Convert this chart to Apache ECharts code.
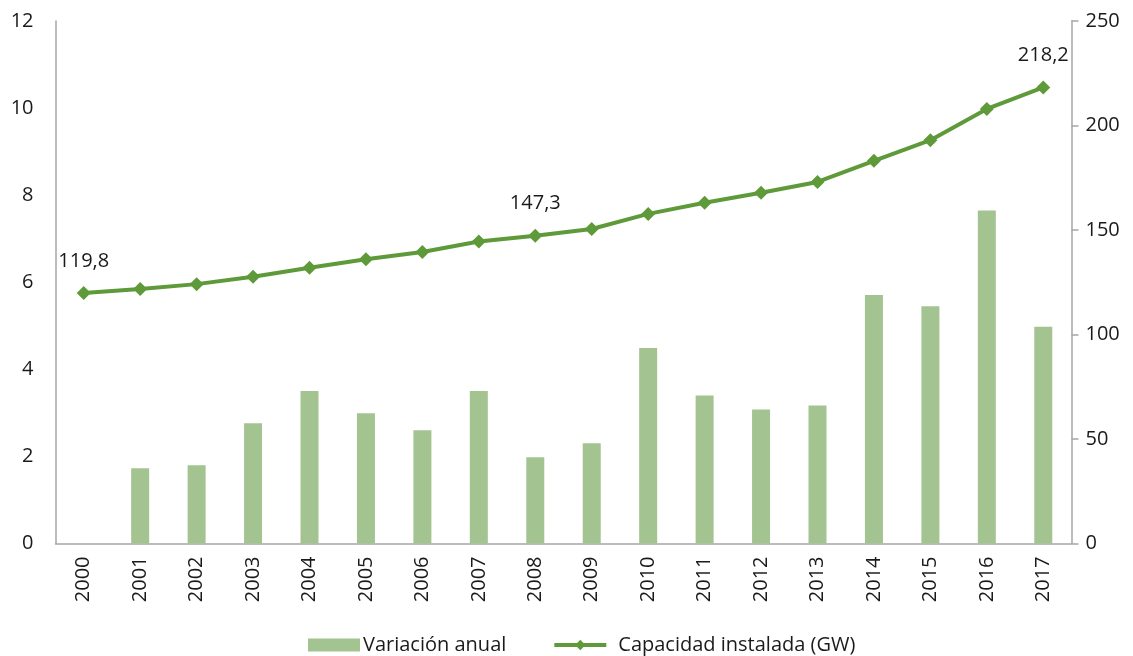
<!DOCTYPE html>
<html><head><meta charset="utf-8">
<script src="https://cdn.jsdelivr.net/npm/echarts@6/dist/echarts.min.js"></script>
<style>html,body{margin:0;padding:0;background:#fff}#c{width:1133px;height:656px}</style>
</head><body><div id="c"></div>
<script>
const years = ['2000','2001','2002','2003','2004','2005','2006','2007','2008','2009','2010','2011','2012','2013','2014','2015','2016','2017'];
const variacionAnual = [null,1.73,1.8,2.76,3.5,2.99,2.6,3.5,1.98,2.3,4.49,3.4,3.08,3.17,5.71,5.45,7.65,4.98];
const capacidad = [119.8,121.8,124.1,127.6,131.9,136.0,139.5,144.5,147.3,150.5,157.7,163.0,167.8,173.0,183.1,193.0,207.9,218.2];
const labeledYears = ['2000','2008','2017'];
const leftTicks = {min:0,max:12,interval:2};
const rightTicks = {min:0,max:250,interval:50};

const FONT = 'Open Sans';
const FS = 20;
const lineColor = '#5e9a3a';
const barColor = '#a3c491';
const axisGray = '#a6a6a6';

const lineData = capacidad.map((v,i)=>({
  value:v,
  label:{show: labeledYears.includes(years[i])}
}));

const chart = echarts.init(document.getElementById('c'));
chart.setOption({
  animation:false,
  textStyle:{fontFamily:FONT},
  grid:{left:55.5,right:61.5,top:21,bottom:112.5,containLabel:false},
  legend:{
    top:630,left:303,itemGap:46,
    itemWidth:52,itemHeight:13,
    textStyle:{fontFamily:FONT,fontSize:FS,color:'#1a1a1a'},
    data:[
      {name:'Variación anual',icon:'rect',textStyle:{padding:[0,0,0,-2]}},
      {name:'Capacidad instalada (GW)',lineStyle:{width:4},textStyle:{padding:[0,0,0,7]}}
    ]
  },
  xAxis:{
    type:'category',data:years,boundaryGap:true,
    axisLine:{lineStyle:{color:axisGray,width:1.5}},
    axisTick:{show:false},
    axisLabel:{rotate:90,fontSize:FS,color:'#1a1a1a',margin:13,fontFamily:FONT}
  },
  yAxis:[
    {type:'value',min:leftTicks.min,max:leftTicks.max,interval:leftTicks.interval,
     splitLine:{show:false},
     axisLine:{show:true,lineStyle:{color:axisGray,width:1.5}},
     axisTick:{show:false},
     axisLabel:{fontSize:FS,color:'#1a1a1a',margin:22,fontFamily:FONT}},
    {type:'value',position:'right',min:rightTicks.min,max:rightTicks.max,interval:rightTicks.interval,
     splitLine:{show:false},
     axisLine:{show:true,lineStyle:{color:axisGray,width:1.5}},
     axisTick:{show:true,inside:false,length:7,lineStyle:{color:axisGray,width:1.5}},
     axisLabel:{fontSize:FS,color:'#1a1a1a',margin:14,fontFamily:FONT}}
  ],
  series:[
    {name:'Variación anual',type:'bar',yAxisIndex:0,data:variacionAnual,
     barWidth:18,itemStyle:{color:barColor}},
    {name:'Capacidad instalada (GW)',type:'line',yAxisIndex:1,data:lineData,
     symbol:'diamond',symbolSize:14,
     lineStyle:{color:lineColor,width:4},
     itemStyle:{color:lineColor},
     label:{position:'top',distance:15,fontSize:FS,color:'#1a1a1a',fontFamily:FONT,
       formatter:p=>String(p.value).replace('.',',')}}
  ]
});
</script></body></html>
